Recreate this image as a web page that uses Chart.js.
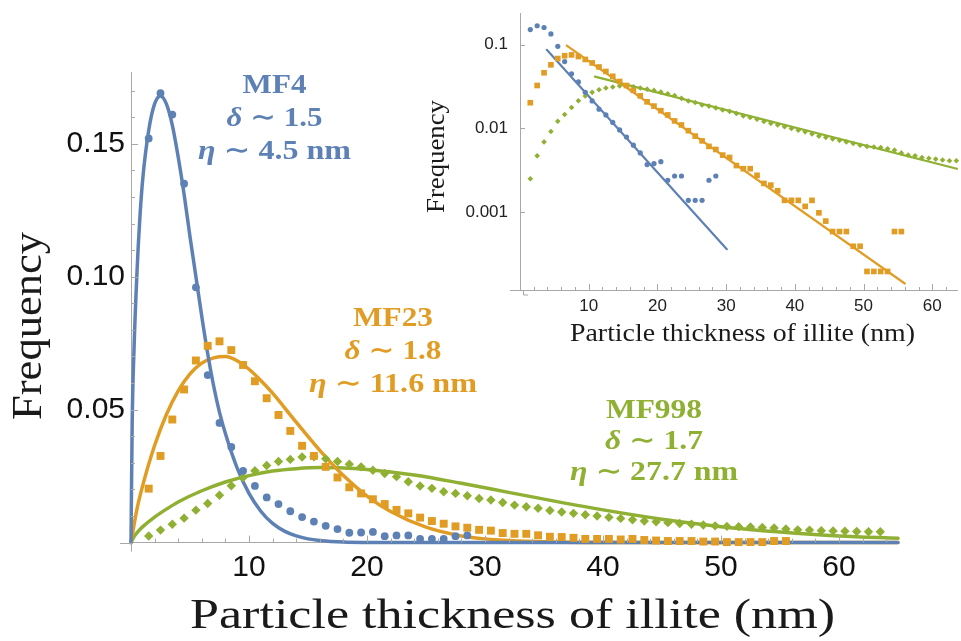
<!DOCTYPE html>
<html><head><meta charset="utf-8">
<script src="https://cdn.jsdelivr.net/npm/chart.js@4.4.1/dist/chart.umd.min.js"></script>
<style>
html,body{margin:0;padding:0;background:#fff;}
#wrap{position:relative;width:961px;height:641px;overflow:hidden;background:#fff;}
canvas{position:absolute;left:0;top:0;}
</style></head><body>
<div id="wrap"><canvas id="main" width="961" height="641"></canvas><canvas id="inset" width="961" height="641"></canvas></div>
<script>
// ---------- data ----------
const blueX = [1.5,2.5,3.5,4.5,5.5,6.5,7.5,8.5,9.5,10.5,11.5,12.5,13.5,14.5,15.5,16.5,17.5,18.5,19.5,20.5,21.5,22.5,23.5,24.5,25.5,26.5,27.5,28.5];
const blueY = [0.152,0.169,0.161,0.135,0.096,0.063,0.045,0.036,0.027,0.0213,0.017,0.0145,0.0118,0.0096,0.0079,0.0063,0.0051,0.0037,0.0038,0.004,0.0024,0.0027,0.0027,0.00138,0.00138,0.00138,0.0024,0.0027];

const orangeX = [1.5,2.5,3.5,4.5,5.5,6.5,7.5,8.5,9.5,10.5,11.5,12.5,13.5,14.5,15.5,16.5,17.5,18.5,19.5,20.5,21.5,22.5,23.5,24.5,25.5,26.5,27.5,28.5,29.5,30.5,31.5,32.5,33.5,34.5,35.5,36.5,37.5,38.5,39.5,40.5,41.5,42.5,43.5,44.5,45.5,46.5,47.5,48.5,49.5,50.5,51.5,52.5,53.5,54.5,55.5];
const orangeY = [0.0203,0.0326,0.0463,0.0576,0.0685,0.074,0.0757,0.0724,0.0668,0.0607,0.0543,0.048,0.042,0.0364,0.0326,0.0285,0.0245,0.0208,0.0185,0.0163,0.0145,0.0123,0.011,0.0094,0.0081,0.0071,0.0061,0.0056,0.0048,0.0045,0.0036,0.0033,0.0033,0.00275,0.0022,0.0021,0.0018,0.00138,0.00138,0.00138,0.00117,0.00138,0.00098,0.00078,0.000585,0.000585,0.000585,0.00039,0.00039,0.000195,0.000195,0.000195,0.000195,0.000585,0.000585];

const greenX = [1.5,2.5,3.5,4.5,5.5,6.5,7.5,8.5,9.5,10.5,11.5,12.5,13.5,14.5,15.5,16.5,17.5,18.5,19.5,20.5,21.5,22.5,23.5,24.5,25.5,26.5,27.5,28.5,29.5,30.5,31.5,32.5,33.5,34.5,35.5,36.5,37.5,38.5,39.5,40.5,41.5,42.5,43.5,44.5,45.5,46.5,47.5,48.5,49.5,50.5,51.5,52.5,53.5,54.5,55.5,56.5,57.5,58.5,59.5,60.5,61.5,62.5,63.5];
const greenY = [0.0025,0.0047,0.0069,0.0092,0.0122,0.0147,0.0178,0.0214,0.0245,0.027,0.029,0.0305,0.0313,0.0322,0.0323,0.0315,0.0305,0.0295,0.0285,0.0272,0.026,0.0248,0.0229,0.0213,0.0204,0.0191,0.0185,0.0176,0.0166,0.016,0.0151,0.0141,0.0135,0.0129,0.0121,0.0115,0.011,0.0105,0.01,0.0095,0.0091,0.0086,0.0081,0.0078,0.0075,0.0072,0.0069,0.0066,0.0063,0.0061,0.006,0.0059,0.0057,0.0055,0.0051,0.0048,0.0047,0.0045,0.0044,0.0043,0.0042,0.0041,0.0041];

// fitted curves (main plot)
const blueFitX = [0,0.1,0.25,0.5,0.75,1,1.5,2,2.5,3,3.5,4,4.5,5,6,6.5,7,7.5,8,9,10,11,12,13,14,15,16,18,20,24,30,40,50,65];
const blueFitY = [0,0.045,0.072,0.101,0.122,0.137,0.155,0.165,0.168,0.165,0.157,0.145,0.131,0.115,0.085,0.071,0.059,0.049,0.041,0.028,0.0185,0.0118,0.0072,0.0043,0.0025,0.0014,0.0008,0.0002,0.00005,0,0,0,0,0];
const orangeFitX = [0,0.5,1,2,3,4,5,6,7,8,9,10,11,12,14,16,18,20,22,25,28,30,35,40,50,65];
const orangeFitY = [0,0.0125,0.0216,0.0365,0.0482,0.0571,0.0635,0.0675,0.0695,0.07,0.0684,0.0652,0.061,0.0562,0.0453,0.0347,0.0252,0.0175,0.0117,0.0058,0.0025,0.0014,0.0003,0.00003,0,0];
const greenFitX = [0,0.25,0.5,1,2,3,4,6,8,10,12,14,16,18,20,24,28,32,36,40,45,50,55,60,65];
const greenFitY = [0,0.0022,0.0037,0.006,0.0096,0.0126,0.0153,0.0195,0.0228,0.0252,0.0269,0.0278,0.0282,0.0281,0.0275,0.0254,0.0223,0.0189,0.0155,0.0123,0.0088,0.006,0.004,0.0025,0.0016];

// exponential tail fits (inset, log scale)
const blueTailX = [3.9, 30.1];
const blueTailY = [0.087, 0.00036];
const orangeTailX = [6.8, 56];
const orangeTailY = [0.098, 0.00014];
const greenTailX = [10.9, 63.6];
const greenTailY = [0.0417, 0.0033];

// tick labels
const mainXTicks = [10,20,30,40,50,60];
const mainYTicks = [0.05,0.10,0.15];
const insetXTicks = [10,20,30,40,50,60];
const insetYTicks = [0.001,0.01,0.1];

// annotation labels
const labelMF4 = ['MF4','δ',' ∼ 1.5','η',' ∼ 4.5 nm'];
const labelMF23 = ['MF23','δ',' ∼ 1.8','η',' ∼ 11.6 nm'];
const labelMF998 = ['MF998','δ',' ∼ 1.7','η',' ∼ 27.7 nm'];
const xTitle = 'Particle thickness of illite (nm)';
const yTitle = 'Frequency';

// ---------- style ----------
const BLUE = '#5E81B5', ORANGE = '#E19C24', GREEN = '#8FB032';
const AXIS = '#a8a8a8';
const SERIF = '"Liberation Serif","DejaVu Serif",serif';
const SANS = '"Liberation Sans",Arial,sans-serif';

function xy(xs, ys){ return xs.map((x,i)=>({x:x, y:ys[i]})); }
function pts(xs, ys, c, style, r){
  return {data:xy(xs,ys), showLine:false, pointStyle:style, pointRadius:r, pointHoverRadius:r,
          backgroundColor:c, borderColor:c, pointBorderWidth:0, borderWidth:0, clip:false};
}
function line(xs, ys, c, w){
  return {data:xy(xs,ys), showLine:true, pointRadius:0, pointHoverRadius:0, borderColor:c,
          backgroundColor:c, borderWidth:w, cubicInterpolationMode:'monotone', fill:false, clip:false,
          borderCapStyle:'round', borderJoinStyle:'round'};
}
function noPad(s){ s.paddingTop = 0; s.paddingBottom = 0; s.paddingLeft = 0; s.paddingRight = 0; }

function drawText(ctx, segs, cx, by, target, size, color, rot){
  ctx.save();
  const widths = segs.map(s=>{ ctx.font = s[1] + ' ' + size + 'px ' + SERIF; return ctx.measureText(s[0]).width; });
  const total = widths.reduce((a,b)=>a+b,0);
  ctx.translate(cx, by);
  if (rot) ctx.rotate(-Math.PI/2);
  ctx.scale(target/total, 1);
  ctx.fillStyle = color; ctx.textBaseline = 'alphabetic'; ctx.textAlign = 'left';
  let x = -total/2;
  segs.forEach((s,i)=>{ ctx.font = s[1] + ' ' + size + 'px ' + SERIF; ctx.fillText(s[0], x, 0); x += widths[i]; });
  ctx.restore();
}
function block(ctx, lab, color, cx, b, w){
  drawText(ctx, [[lab[0],'bold']], cx, b[0], w[0], 27, color);
  drawText(ctx, [[lab[1],'italic bold'],[lab[2],'bold']], cx, b[1], w[1], 27, color);
  drawText(ctx, [[lab[3],'italic bold'],[lab[4],'bold']], cx, b[2], w[2], 27, color);
}

const mainDecor = {
  id:'mainDecor',
  afterDraw(chart){
    const ctx = chart.ctx, xs = chart.scales.x, ys = chart.scales.y, a = chart.chartArea;
    ctx.save();
    ctx.strokeStyle = AXIS; ctx.lineWidth = 1;
    ctx.beginPath();
    for (let v = 2; v <= 64; v += 2){
      const px = Math.round(xs.getPixelForValue(v)) + 0.5;
      const len = (v % 10 === 0) ? 7 : 4;
      ctx.moveTo(px, a.bottom); ctx.lineTo(px, a.bottom - len);
    }
    for (let k = 1; k <= 17; k++){
      const py = Math.round(ys.getPixelForValue(k/100)) + 0.5;
      const len = (k % 5 === 0) ? 7 : 4;
      ctx.moveTo(a.left, py); ctx.lineTo(a.left + len, py);
    }
    ctx.moveTo(a.left - 11, Math.round(a.bottom) + 0.5); ctx.lineTo(a.left, Math.round(a.bottom) + 0.5);
    ctx.moveTo(Math.round(a.left) + 0.5, a.bottom); ctx.lineTo(Math.round(a.left) + 0.5, a.bottom + 9);
    ctx.stroke();
    ctx.restore();
    drawText(ctx, [[xTitle,'']], 512.5, 628, 645, 42, '#1a1a1a');
    drawText(ctx, [[yTitle,'']], 41, 326, 188, 42, '#1a1a1a', true);
    block(ctx, labelMF4, BLUE, 274.5, [93.3,125.7,158.5], [64,96,153]);
    block(ctx, labelMF23, ORANGE, 393, [326,358.8,391.5], [80,97,168]);
    block(ctx, labelMF998, GREEN, 654, [418.3,449.3,480], [96,98,168]);
  }
};

const insetDecor = {
  id:'insetDecor',
  afterDraw(chart){
    const ctx = chart.ctx, xs = chart.scales.x, ys = chart.scales.y, a = chart.chartArea;
    ctx.save();
    ctx.strokeStyle = AXIS; ctx.lineWidth = 1;
    ctx.beginPath();
    for (let v = 2; v <= 62; v += 2){
      const px = Math.round(xs.getPixelForValue(v)) + 0.5;
      const len = (v % 10 === 0) ? 6 : 3;
      ctx.moveTo(px, a.bottom); ctx.lineTo(px, a.bottom - len);
    }
    insetYTicks.forEach(v=>{
      const py = Math.round(ys.getPixelForValue(v)) + 0.5;
      ctx.moveTo(a.left, py); ctx.lineTo(a.left + 5, py);
    });
    ctx.moveTo(a.left - 10, Math.round(a.bottom) + 0.5); ctx.lineTo(a.left, Math.round(a.bottom) + 0.5);
    ctx.moveTo(Math.round(a.left) + 3.5, a.bottom); ctx.lineTo(Math.round(a.left) + 3.5, a.bottom + 5);
    ctx.moveTo(Math.round(a.left) + 3.5, a.bottom + 5); ctx.lineTo(Math.round(a.left) + 8, a.bottom + 5);
    ctx.stroke();
    ctx.restore();
    drawText(ctx, [[xTitle,'']], 742.5, 341, 345, 25, '#1a1a1a');
    drawText(ctx, [[yTitle,'']], 443.5, 156.5, 113, 25, '#1a1a1a', true);
  }
};

new Chart(document.getElementById('main'), {
  type:'scatter',
  data:{datasets:[
    pts(blueX, blueY, BLUE, 'circle', 3.9),
    pts(orangeX, orangeY, ORANGE, 'rect', 5.6),
    pts(greenX, greenY, GREEN, 'rectRot', 4.7),
    line(blueFitX, blueFitY, BLUE, 3.5),
    line(orangeFitX, orangeFitY, ORANGE, 3.5),
    line(greenFitX, greenFitY, GREEN, 3.5)
  ]},
  options:{
    responsive:false, animation:false, devicePixelRatio:1,
    layout:{padding:{left:0, top:72, right:63, bottom:0}},
    plugins:{legend:{display:false}, tooltip:{enabled:false}},
    scales:{
      x:{type:'linear', min:0, max:65, grid:{display:false, drawTicks:false}, border:{display:true, color:AXIS, width:1},
         afterFit:s=>{ s.height = 98.4; noPad(s); },
         afterBuildTicks:s=>{ s.ticks = mainXTicks.map(v=>({value:v})); },
         ticks:{font:{family:SANS, size:30}, color:'#111', padding:7, maxRotation:0, autoSkip:false, callback:v=>String(v)}},
      y:{type:'linear', min:0, max:0.177, grid:{display:false, drawTicks:false}, border:{display:true, color:AXIS, width:1},
         afterFit:s=>{ s.width = 131; noPad(s); },
         afterBuildTicks:s=>{ s.ticks = mainYTicks.map(v=>({value:v})); },
         ticks:{font:{family:SANS, size:30}, color:'#111', padding:6, autoSkip:false, callback:v=>Number(v).toFixed(2)}}
    }
  },
  plugins:[mainDecor]
});

new Chart(document.getElementById('inset'), {
  type:'scatter',
  data:{datasets:[
    pts(blueX, blueY, BLUE, 'circle', 2.6),
    pts(orangeX, orangeY, ORANGE, 'rect', 4),
    pts(greenX, greenY, GREEN, 'rectRot', 2.8),
    line(blueTailX, blueTailY, BLUE, 2.2),
    line(orangeTailX, orangeTailY, ORANGE, 2.2),
    line(greenTailX, greenTailY, GREEN, 2.2)
  ]},
  options:{
    responsive:false, animation:false, devicePixelRatio:1,
    layout:{padding:{left:420, top:13, right:0, bottom:291}},
    plugins:{legend:{display:false}, tooltip:{enabled:false}},
    scales:{
      x:{type:'linear', min:0, max:63.6, grid:{display:false, drawTicks:false}, border:{display:true, color:AXIS, width:1},
         afterFit:s=>{ s.height = 60; noPad(s); },
         afterBuildTicks:s=>{ s.ticks = insetXTicks.map(v=>({value:v})); },
         ticks:{font:{family:SANS, size:17}, color:'#222', padding:6, maxRotation:0, autoSkip:false, callback:v=>String(v)}},
      y:{type:'logarithmic', min:0.000117, max:0.24, grid:{display:false, drawTicks:false}, border:{display:true, color:AXIS, width:1},
         afterFit:s=>{ s.width = 100; noPad(s); },
         afterBuildTicks:s=>{ s.ticks = insetYTicks.map(v=>({value:v})); },
         ticks:{font:{family:SANS, size:17}, color:'#222', padding:12, autoSkip:false, callback:v=>String(v)}}
    }
  },
  plugins:[insetDecor]
});
</script>
</body></html>
